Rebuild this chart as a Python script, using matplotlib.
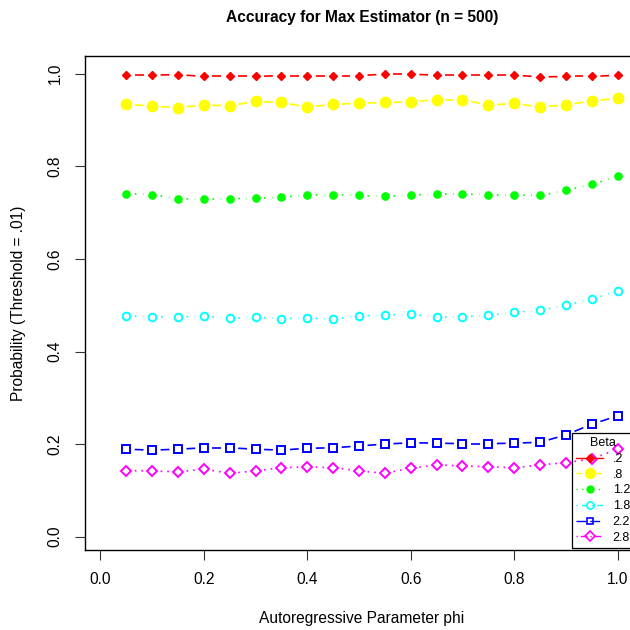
import matplotlib
matplotlib.use("Agg")
import matplotlib.pyplot as plt
from matplotlib.lines import Line2D
import numpy as np

plt.rcParams['font.family'] = ['Liberation Sans', 'DejaVu Sans']

# autoregressive parameter
phi = [0.05, 0.10, 0.15, 0.20, 0.25, 0.30, 0.35, 0.40, 0.45, 0.50,
       0.55, 0.60, 0.65, 0.70, 0.75, 0.80, 0.85, 0.90, 0.95, 1.00]

beta_labels = [".2", ".8", "1.2", "1.8", "2.2", "2.8"]

acc_b02 = [0.997, 0.997, 0.998, 0.994, 0.994, 0.994, 0.996, 0.996, 0.996, 0.996,
           0.999, 0.999, 0.997, 0.997, 0.997, 0.997, 0.993, 0.994, 0.994, 0.997]
acc_b08 = [0.934, 0.930, 0.927, 0.932, 0.931, 0.940, 0.938, 0.928, 0.934, 0.936,
           0.938, 0.939, 0.944, 0.944, 0.932, 0.936, 0.928, 0.933, 0.941, 0.947]
acc_b12 = [0.741, 0.739, 0.730, 0.729, 0.730, 0.731, 0.733, 0.738, 0.739, 0.737,
           0.735, 0.738, 0.740, 0.740, 0.739, 0.737, 0.737, 0.748, 0.761, 0.778]
acc_b18 = [0.477, 0.475, 0.475, 0.476, 0.472, 0.474, 0.471, 0.472, 0.470, 0.477,
           0.479, 0.480, 0.475, 0.475, 0.478, 0.485, 0.489, 0.500, 0.513, 0.531]
acc_b22 = [0.189, 0.187, 0.189, 0.192, 0.192, 0.189, 0.187, 0.191, 0.192, 0.196,
           0.200, 0.203, 0.202, 0.201, 0.201, 0.202, 0.204, 0.220, 0.243, 0.261]
acc_b28 = [0.143, 0.142, 0.140, 0.146, 0.137, 0.142, 0.149, 0.151, 0.149, 0.142,
           0.137, 0.148, 0.155, 0.153, 0.151, 0.149, 0.155, 0.160, 0.168, 0.189]

series = [acc_b02, acc_b08, acc_b12, acc_b18, acc_b22, acc_b28]

# estilo de cada serie: color, marcador, relleno, tamaño, linea en grafico, linea en leyenda
estilos = [
    ('#ff0000', 'D', True, 4.3, '-', '-'),
    ('#ffff00', 'o', True, 7.5, '-', (0, (4, 3))),
    ('#00ff00', 'o', True, 5.2, (0, (1, 4)), (0, (1, 3))),
    ('#00ffff', 'o', False, 5.5, (0, (1, 4)), (0, (1, 3, 4, 3))),
    ('#0000ff', 's', False, 5.3, '-', (0, (7, 3))),
    ('#ff00ff', 'D', False, 5.5, (0, (1, 3)), (0, (1, 2, 5, 2))),
]

fig = plt.figure(figsize=(6.3, 6.3), dpi=100)
ax = fig.add_axes([85/630, 80/630, (638.4-85)/630, (550-55.7)/630])

def lineas_con_huecos(x, y, color, ls, t=0.33):
    # imita type="b" de R: lineas cortadas alrededor de los puntos
    x = np.asarray(x); y = np.asarray(y)
    for i in range(len(x) - 1):
        dx = x[i+1] - x[i]; dy = y[i+1] - y[i]
        ax.plot([x[i] + t*dx, x[i+1] - t*dx], [y[i] + t*dy, y[i+1] - t*dy],
                color=color, lw=1.2, linestyle=ls, solid_capstyle='butt')

handles = []
for vals, (col, mk, filled, ms, ls, ls_leg), lab in zip(series, estilos, beta_labels):
    lineas_con_huecos(phi, vals, col, ls)
    ax.plot(phi, vals, linestyle='none', marker=mk, markersize=ms,
            markerfacecolor=col if filled else 'none', markeredgecolor=col,
            markeredgewidth=1.0 if filled else 1.4)
    handles.append(Line2D([], [], color=col, lw=1.0, linestyle=ls_leg, marker=mk,
                          markersize=ms * 0.95, markerfacecolor=col if filled else 'none',
                          markeredgecolor=col, markeredgewidth=1.0 if filled else 1.2))

ax.set_xlim(-0.0296, 1.04)
ax.set_ylim(-0.0287, 1.0389)
ax.set_xticks([0.0, 0.2, 0.4, 0.6, 0.8, 1.0])
ax.set_xticklabels(["0.0", "0.2", "0.4", "0.6", "0.8", "1.0"])
ax.set_yticks([0.0, 0.2, 0.4, 0.6, 0.8, 1.0])
ax.set_yticklabels(["0.0", "0.2", "0.4", "0.6", "0.8", "1.0"], rotation=90, va='center')
ax.tick_params(length=7, width=0.8, labelsize=11.2, pad=9, color='#333333')
for sp in ax.spines.values():
    sp.set_linewidth(1.0)

ax.set_title("Accuracy for Max Estimator (n = 500)", fontsize=11.2,
             fontweight='bold', pad=24)
ax.set_xlabel("Autoregressive Parameter phi", fontsize=11.2, labelpad=17)
ax.set_ylabel("Probability (Threshold = .01)", fontsize=11.2, labelpad=16)

leg = fig.legend(handles=handles, labels=beta_labels, title="Beta",
                 loc='lower left', bbox_to_anchor=(572/630, 82/630),
                 bbox_transform=fig.transFigure, fontsize=9, title_fontsize=9,
                 frameon=True, fancybox=False, framealpha=1, edgecolor='black',
                 handlelength=2.1, handletextpad=0.8, labelspacing=0.3,
                 borderpad=0.35, borderaxespad=0)
leg.get_frame().set_facecolor('none')
leg.get_frame().set_linewidth(0.9)
leg.get_title().set_position((0, 0))

fig.savefig("out.png", dpi=100)
